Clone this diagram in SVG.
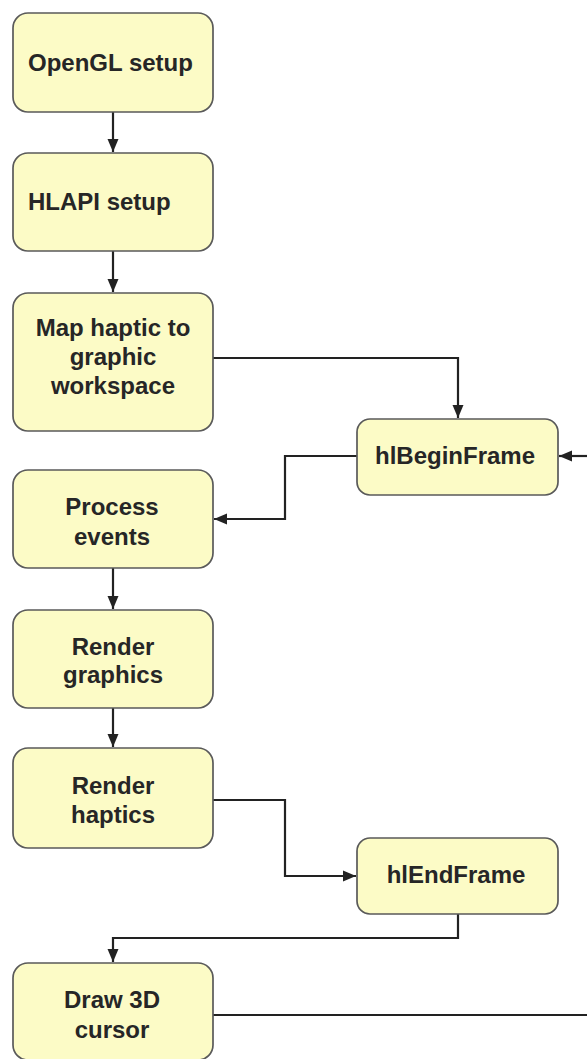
<svg xmlns="http://www.w3.org/2000/svg" width="587" height="1059" viewBox="0 0 587 1059">
<style>
.box{fill:#fcfbc6;stroke:#5a5a5a;stroke-width:1.7}
.t{font-family:"Liberation Sans",Arial,sans-serif;font-weight:bold;font-size:24px;fill:#262626}
.m{text-anchor:middle}
.c{fill:none;stroke:#222;stroke-width:2.2}
</style>
<defs>
<marker id="ah" markerUnits="userSpaceOnUse" markerWidth="13" markerHeight="12" refX="13" refY="6" orient="auto">
<path d="M0,0.5 L13,6 L0,11.5 z" fill="#222"/>
</marker>
</defs>
<rect width="587" height="1059" fill="#ffffff"/>
<g id="connectors">
<path class="c" d="M113 112 V152" marker-end="url(#ah)"/>
<path class="c" d="M113 251 V292" marker-end="url(#ah)"/>
<path class="c" d="M213 358 H458 V418" marker-end="url(#ah)"/>
<path class="c" d="M357 456 H285 V519 H214" marker-end="url(#ah)"/>
<path class="c" d="M587 456 H559" marker-end="url(#ah)"/>
<path class="c" d="M113 568 V609" marker-end="url(#ah)"/>
<path class="c" d="M113 708 V747" marker-end="url(#ah)"/>
<path class="c" d="M213 800 H285 V876 H356" marker-end="url(#ah)"/>
<path class="c" d="M458 914 V938 H113 V962" marker-end="url(#ah)"/>
<path class="c" d="M213 1015 H587"/>
</g>
<g id="opengl-setup">
<rect class="box" x="13" y="13" width="200" height="99" rx="15"/>
<text class="t" x="28" y="71">OpenGL setup</text>
</g>
<g id="hlapi-setup">
<rect class="box" x="13" y="153" width="200" height="98" rx="15"/>
<text class="t" x="28" y="210">HLAPI setup</text>
</g>
<g id="map-haptic">
<rect class="box" x="13" y="293" width="200" height="138" rx="15"/>
<text class="t m" x="113" y="336">Map haptic to</text>
<text class="t m" x="113" y="365">graphic</text>
<text class="t m" x="113" y="394">workspace</text>
</g>
<g id="hlbeginframe">
<rect class="box" x="357" y="419" width="201" height="76" rx="13"/>
<text class="t m" x="455" y="464">hlBeginFrame</text>
</g>
<g id="process-events">
<rect class="box" x="13" y="470" width="200" height="98" rx="15"/>
<text class="t m" x="112" y="515">Process</text>
<text class="t m" x="112" y="545">events</text>
</g>
<g id="render-graphics">
<rect class="box" x="13" y="610" width="200" height="98" rx="15"/>
<text class="t m" x="113" y="655">Render</text>
<text class="t m" x="113" y="683">graphics</text>
</g>
<g id="render-haptics">
<rect class="box" x="13" y="748" width="200" height="100" rx="15"/>
<text class="t m" x="113" y="794">Render</text>
<text class="t m" x="113" y="823">haptics</text>
</g>
<g id="hlendframe">
<rect class="box" x="357" y="838" width="201" height="76" rx="13"/>
<text class="t m" x="456" y="883">hlEndFrame</text>
</g>
<g id="draw-3d-cursor">
<rect class="box" x="13" y="963" width="200" height="97" rx="15"/>
<text class="t m" x="112" y="1008">Draw 3D</text>
<text class="t m" x="112" y="1038">cursor</text>
</g>
</svg>
